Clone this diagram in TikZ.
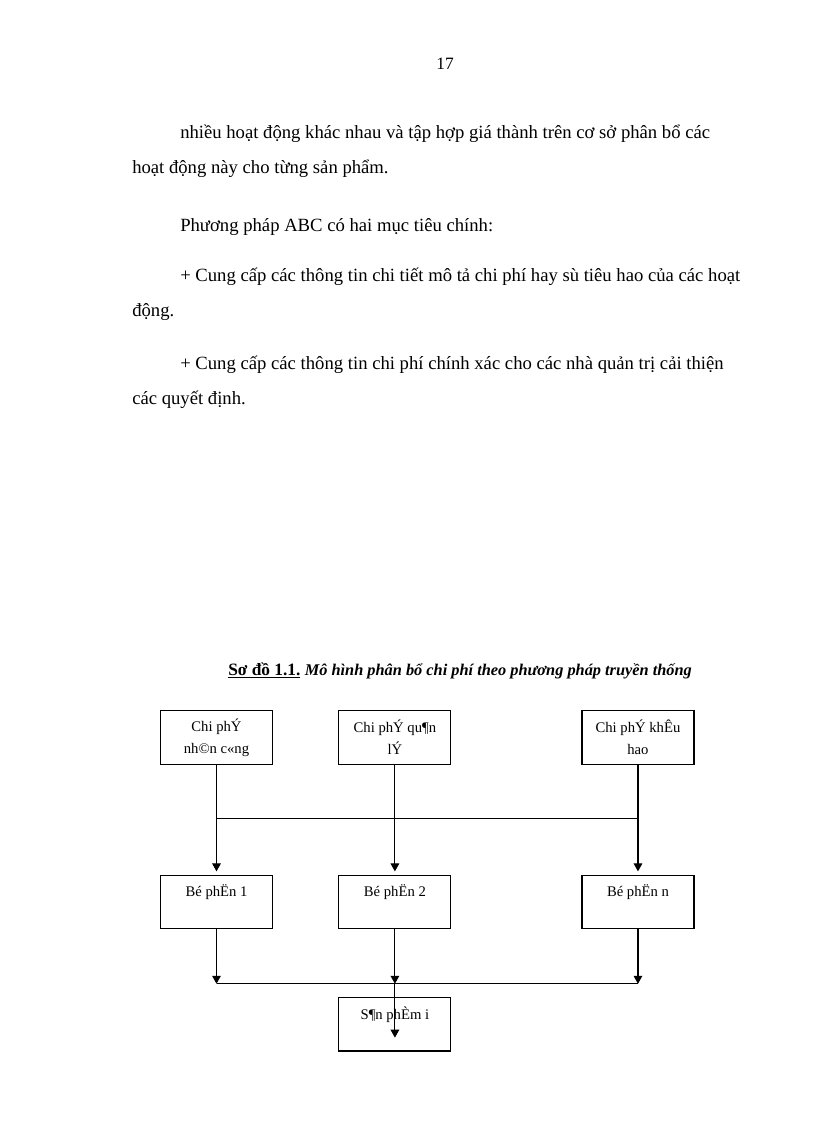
\documentclass[tikz,border=0pt]{standalone}
\usepackage{fontspec}
\setmainfont{Liberation Serif}
\usetikzlibrary{positioning, arrows.meta}

\begin{document}
\begin{tikzpicture}[x=0.75pt, y=-0.75pt,
        costbox/.style={draw, rectangle, line width=0.8pt, minimum width=84pt, minimum height=40pt, inner sep=0pt, align=center, font=\fontsize{11}{16.5}\selectfont},
        bodytext/.style={anchor=base west, inner sep=0pt, font=\fontsize{14}{16}\selectfont},
        link/.style={line width=0.8pt},
        flow/.style={line width=0.8pt, -{Triangle[length=6pt, width=6.5pt]}}]
        \useasboundingbox (0,0) rectangle (816,1123);

        % page text
        \node [anchor=base, inner sep=0pt, font=\fontsize{13}{15}\selectfont] (pagenum) at (445,70) {17};
        \node [bodytext] (L1) at (180,139) {nhiều hoạt động khác nhau và tập hợp giá thành trên cơ sở phân bổ các};
        \node [bodytext] (L2) at (132,174) {hoạt động này cho từng sản phẩm.};
        \node [bodytext] (L3) at (180,232) {Phương pháp ABC có hai mục tiêu chính:};
        \node [bodytext] (L4) at (180,281) {+ Cung cấp các thông tin chi tiết mô tả chi phí hay sù tiêu hao của các hoạt};
        \node [bodytext] (L5) at (132,316) {động.};
        \node [bodytext] (L6) at (180,369) {+ Cung cấp các thông tin chi phí chính xác cho các nhà quản trị cải thiện};
        \node [bodytext] (L7) at (132,404) {các quyết định.};
        \node [anchor=base west, inner sep=0pt] (caption) at (228,675) {\fontsize{13}{15}\selectfont\bfseries\underline{Sơ đồ 1.1.} \fontsize{12.25}{14}\selectfont\itshape Mô hình phân bổ chi phí theo phương pháp truyền thống};

        % cost boxes
        \node [costbox] (C1) at (216.5,737.5) {Chi phÝ\\nh©n c«ng};
        \node [costbox, right=49pt of C1] (C2) {Chi phÝ qu¶n\\lÝ};
        \node [costbox, right=97.5pt of C2] (C3) {Chi phÝ khÊu\\hao};
        \node [costbox, below=82.5pt of C1] (D1) {Bé phËn 1\\~};
        \node [costbox, below=82.5pt of C2] (D2) {Bé phËn 2\\~};
        \node [costbox, below=82.5pt of C3] (D3) {Bé phËn n\\~};
        \node [costbox, below=51pt of D2] (P) {S¶n phÈm i\\~};

        % bus lines
        \coordinate [below=40.3pt of C1.south] (J1);
        \coordinate [below=40.3pt of C2.south] (J2);
        \coordinate [below=40.3pt of C3.south] (J3);
        \coordinate [below=41pt of D1.south] (K1);
        \coordinate [below=41pt of D2.south] (K2);
        \coordinate [below=41pt of D3.south] (K3);
        \coordinate [below=10pt of P.center] (Pin);

        \draw [link] (C1) -- (J1);
        \draw [link] (C2) -- (J2);
        \draw [link] (C3) -- (J3);
        \draw [link] (J1) -- (J3);
        \draw [flow, shorten >=2.5pt] (J1) -- (D1);
        \draw [flow, shorten >=2.5pt] (J2) -- (D2);
        \draw [flow, shorten >=2.5pt] (J3) -- (D3);
        \draw [flow] (D1) -- (K1);
        \draw [flow] (D2) -- (K2);
        \draw [flow] (D3) -- (K3);
        \draw [link] (K1) -- (K3);
        \draw [flow] (K2) -- (Pin);
\end{tikzpicture}
\end{document}
